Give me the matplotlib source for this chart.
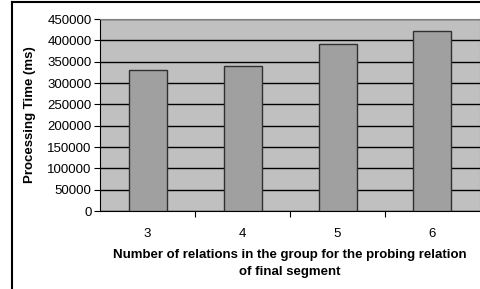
import matplotlib.pyplot as plt
import matplotlib.lines as mlines

categories = ['3', '4', '5', '6']
times = [331000, 340500, 392000, 422500]
yticks = list(range(0, 450001, 50000))

plt.rcParams['font.family'] = ['Liberation Sans', 'DejaVu Sans']

W, H = 481, 289
fig = plt.figure(figsize=(W / 100, H / 100), dpi=100)
ax = fig.add_axes([100 / W, 1 - 211 / H, 380 / W, 192 / H])

x = list(range(len(categories)))
ax.set_facecolor('#c0c0c0')
ax.bar(x, times, width=0.4, color='#a0a0a0', edgecolor='#303030', linewidth=1.0, zorder=3)
ax.set_xlim(-0.5, len(categories) - 0.5)
ax.set_ylim(0, 450000)
ax.set_yticks(yticks)
ax.set_yticklabels([str(v) for v in yticks], fontsize=9.5)
ax.yaxis.grid(True, color='#000000', linewidth=1.0, zorder=1)
ax.set_axisbelow(True)

# category ticks sit between the bars
ax.set_xticks([i + 0.5 for i in range(len(categories) - 1)])
ax.set_xticklabels([])
ax.set_xticks(x, minor=True)
ax.set_xticklabels(categories, minor=True, fontsize=9.5)
ax.tick_params(axis='x', which='minor', length=0, pad=12)
ax.tick_params(axis='x', which='major', length=4, color='black', direction='out')
ax.tick_params(axis='y', length=4, color='black', pad=2)

for s in ['top', 'right']:
    ax.spines[s].set_color('#808080')
for s in ['left', 'bottom']:
    ax.spines[s].set_color('black')

ax.set_ylabel('Processing Time (ms)', fontsize=9.5, fontweight='bold', labelpad=8)
ax.set_xlabel('Number of relations in the group for the probing relation\nof final segment',
              fontsize=9.5, fontweight='bold', linespacing=1.5, labelpad=7)

# outer chart border
fig.add_artist(mlines.Line2D([12 / W, 12 / W], [0, 1 - 1.5 / H], color='black', linewidth=1.5))
fig.add_artist(mlines.Line2D([12 / W, 1], [1 - 1.5 / H, 1 - 1.5 / H], color='black', linewidth=1.5))

fig.savefig('out.png', dpi=100)
